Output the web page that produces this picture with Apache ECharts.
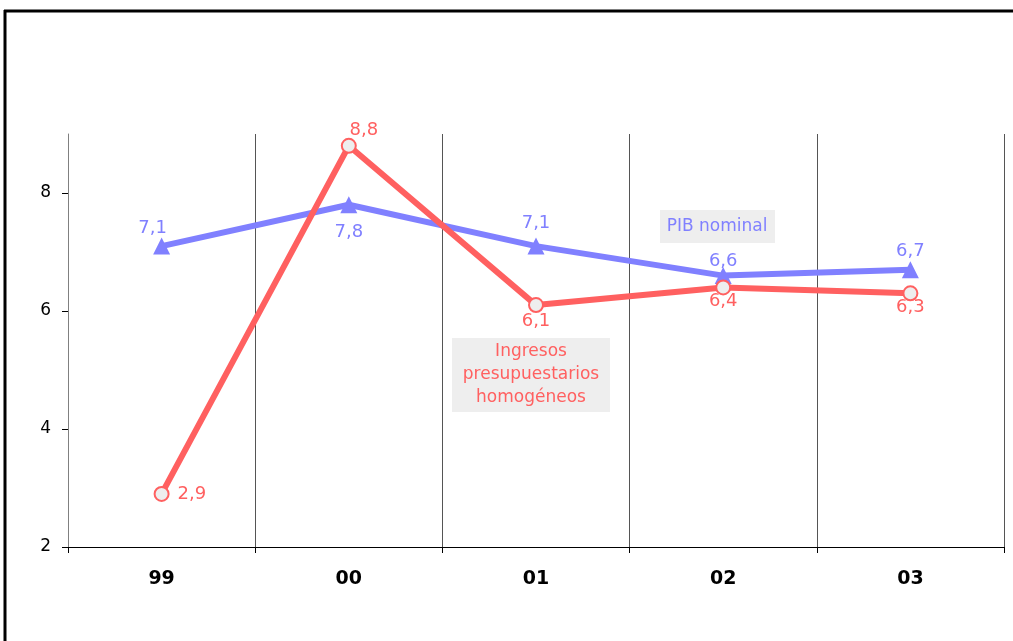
<!DOCTYPE html>
<html>
<head>
<meta charset="utf-8">
<script src="https://cdn.jsdelivr.net/npm/echarts@6/dist/echarts.min.js"></script>
<style>
  html, body { margin: 0; padding: 0; background: #fff; }
  #chart { width: 1013px; height: 641px; }
</style>
</head>
<body>
<div id="chart"></div>
<script>
// data
var categories = ['99', '00', '01', '02', '03'];
var ingresos = [2.9, 8.8, 6.1, 6.4, 6.3];
var pib = [7.1, 7.8, 7.1, 6.6, 6.7];
var yTicks = [2, 4, 6, 8];

var RED = '#ff6060';
var BLUE = '#8080ff';
var FONT = 'DejaVu Sans';

// where each value label sits relative to its point
var ingresosLabelPos = [
    { position: 'right', offset: [2, 0] },
    { position: 'top', offset: [15, 8] },
    { position: 'bottom', offset: [0, -7] },
    { position: 'bottom', offset: [0, -9] },
    { position: 'bottom', offset: [0, -9] }
];
var pibLabelPos = [
    { position: 'top', offset: [-9, 6] },
    { position: 'bottom', offset: [0, 4] },
    { position: 'top', offset: [0, 1] },
    { position: 'top', offset: [0, 9] },
    { position: 'top', offset: [0, 5] }
];

function fmt(p) {
    return String(p.value).replace('.', ',');
}

function buildData(values, pos) {
    return values.map(function (v, i) {
        return { value: v, label: pos[i] };
    });
}

var chart = echarts.init(document.getElementById('chart'));

var option = {
    backgroundColor: '#fff',
    animation: false,
    grid: { left: 68, right: 9, top: 134, bottom: 94 },
    xAxis: {
        type: 'category',
        data: categories,
        boundaryGap: true,
        axisLine: { lineStyle: { color: '#000', width: 1 } },
        axisTick: { show: true, length: 6, interval: 0, lineStyle: { color: '#000' } },
        splitLine: { show: true, interval: 0, lineStyle: { color: '#555', width: 1 } },
        axisLabel: {
            margin: 23,
            color: '#000',
            fontFamily: FONT,
            fontSize: 19,
            fontWeight: 'bold'
        }
    },
    yAxis: {
        type: 'value',
        min: 2,
        max: 9,
        interval: 2,
        axisLine: { show: true, lineStyle: { color: '#808080', width: 1 } },
        axisTick: { show: true, length: 6, customValues: yTicks, lineStyle: { color: '#000' } },
        splitLine: { show: false },
        axisLabel: {
            customValues: yTicks,
            margin: 17,
            color: '#000',
            fontFamily: FONT,
            fontSize: 17
        }
    },
    series: [
        {
            name: 'PIB nominal',
            type: 'line',
            data: buildData(pib, pibLabelPos),
            symbol: 'triangle',
            symbolSize: 17,
            lineStyle: { color: BLUE, width: 6 },
            itemStyle: { color: BLUE },
            label: {
                show: true,
                formatter: fmt,
                color: BLUE,
                fontFamily: FONT,
                fontSize: 18,
                distance: 6
            }
        },
        {
            name: 'Ingresos presupuestarios homogéneos',
            type: 'line',
            data: buildData(ingresos, ingresosLabelPos),
            symbol: 'circle',
            symbolSize: 14,
            lineStyle: { color: RED, width: 6 },
            itemStyle: { color: '#eeeeee', borderColor: RED, borderWidth: 2 },
            label: {
                show: true,
                formatter: fmt,
                color: RED,
                fontFamily: FONT,
                fontSize: 18,
                distance: 6
            }
        }
    ],
    graphic: [
        // frame
        { type: 'line', shape: { x1: 4, y1: 11, x2: 1013, y2: 11 }, style: { stroke: '#000', lineWidth: 3 } },
        { type: 'line', shape: { x1: 5, y1: 10, x2: 5, y2: 641 }, style: { stroke: '#000', lineWidth: 3 } },
        // series name boxes
        { type: 'rect', shape: { x: 660, y: 210, width: 115, height: 33 }, style: { fill: '#eeeeee' } },
        {
            type: 'text',
            x: 717,
            y: 227,
            style: {
                text: 'PIB nominal',
                fill: BLUE,
                font: '17px "DejaVu Sans"',
                align: 'center',
                verticalAlign: 'middle'
            }
        },
        { type: 'rect', shape: { x: 452, y: 338, width: 158, height: 74 }, style: { fill: '#eeeeee' } },
        {
            type: 'text',
            x: 531,
            y: 375,
            style: {
                text: 'Ingresos\npresupuestarios\nhomogéneos',
                fill: RED,
                font: '17px "DejaVu Sans"',
                align: 'center',
                verticalAlign: 'middle',
                lineHeight: 23
            }
        }
    ]
};

chart.setOption(option);
</script>
</body>
</html>
